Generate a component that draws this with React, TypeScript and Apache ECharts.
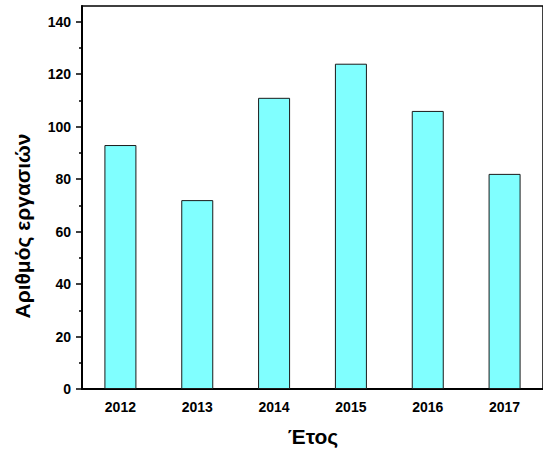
import React, { useEffect, useRef } from "react";
import * as echarts from "echarts";

const years = ["2012", "2013", "2014", "2015", "2016", "2017"];
const jobCounts = [93, 72, 111, 124, 106, 82];
const majorTicks = [0, 20, 40, 60, 80, 100, 120, 140];
const minorTicks = [10, 30, 50, 70, 90, 110, 130];
const yMax = 146;

const FONT = "'Liberation Sans', Arial, sans-serif";

export default function App() {
  const ref = useRef<HTMLDivElement>(null);

  useEffect(() => {
    document.body.style.margin = "0";
    if (!ref.current) return;
    const chart = echarts.init(ref.current, null, { renderer: "svg" });
    chart.setOption({
      animation: false,
      backgroundColor: "#ffffff",
      grid: {
        left: 82,
        top: 6,
        width: 470,
        bottom: 63,
        show: true,
        borderColor: "#000000",
        borderWidth: 1.5,
        backgroundColor: "transparent",
      },
      xAxis: {
        type: "category",
        data: years,
        axisLine: { lineStyle: { color: "#000000", width: 2 } },
        axisTick: {
          alignWithLabel: true,
          length: 6,
          lineStyle: { color: "#000000", width: 1.5 },
        },
        axisLabel: {
          color: "#000000",
          fontFamily: FONT,
          fontWeight: "bold",
          fontSize: 14,
          margin: 11,
        },
        splitLine: { show: false },
      },
      yAxis: [
        {
          type: "value",
          min: 0,
          max: yMax,
          axisLine: { show: true, lineStyle: { color: "#000000", width: 2 } },
          axisTick: {
            show: true,
            length: 6,
            customValues: majorTicks,
            lineStyle: { color: "#000000", width: 1.5 },
          },
          axisLabel: {
            customValues: majorTicks,
            color: "#000000",
            fontFamily: FONT,
            fontWeight: "bold",
            fontSize: 14,
            margin: 11,
          },
          splitLine: { show: false },
        },
        {
          type: "value",
          position: "left",
          min: 0,
          max: yMax,
          axisLine: { show: false },
          axisTick: {
            show: true,
            length: 3,
            customValues: minorTicks,
            lineStyle: { color: "#000000", width: 1.5 },
          },
          axisLabel: { show: false },
          splitLine: { show: false },
        },
      ],
      series: [
        {
          type: "bar",
          data: jobCounts,
          barWidth: 32,
          itemStyle: {
            color: "#80ffff",
            borderColor: "#1a1a1a",
            borderWidth: 1,
          },
        },
      ],
      graphic: [
        {
          type: "text",
          x: 313,
          y: 436,
          style: {
            text: "Έτος",
            fill: "#000000",
            font: `bold 21px ${FONT}`,
            textAlign: "center",
            textVerticalAlign: "middle",
          },
        },
        {
          type: "text",
          x: 22,
          y: 226,
          rotation: Math.PI / 2,
          style: {
            text: "Αριθμός εργασιών",
            fill: "#000000",
            font: `bold 21px ${FONT}`,
            textAlign: "center",
            textVerticalAlign: "middle",
          },
        },
      ],
    });
    return () => chart.dispose();
  }, []);

  return <div ref={ref} style={{ width: 543, height: 452 }} />;
}
